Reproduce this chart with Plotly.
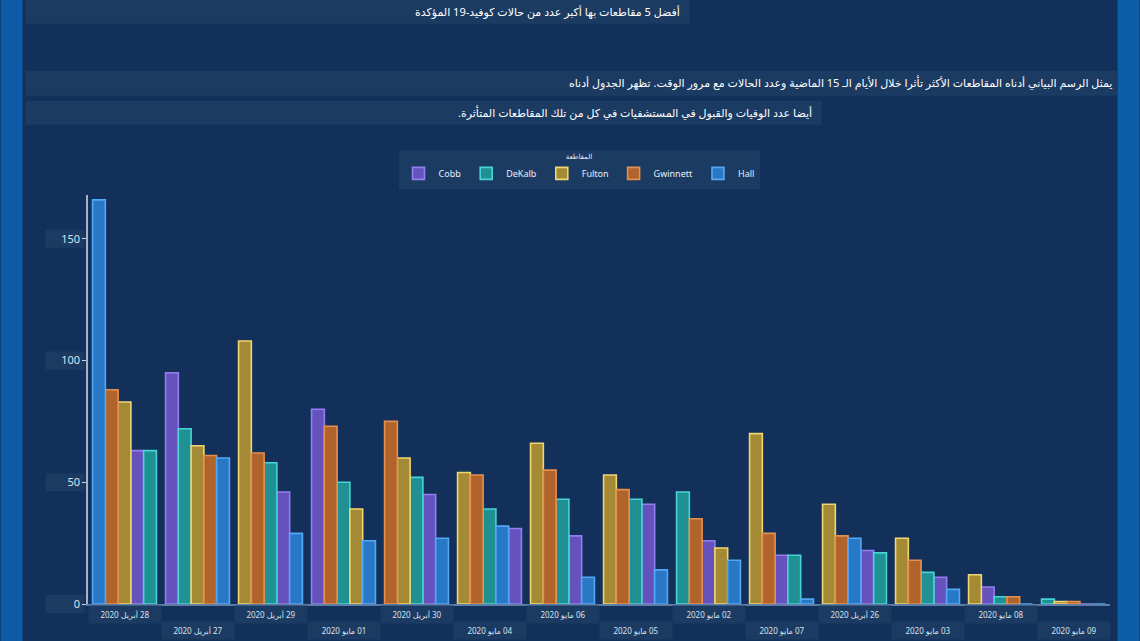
import plotly.graph_objects as go

# dates on the x axis, ordered by total cases (as in the dashboard)
dates = ["28 أبريل 2020", "27 أبريل 2020", "29 أبريل 2020", "01 مايو 2020",
         "30 أبريل 2020", "04 مايو 2020", "06 مايو 2020", "05 مايو 2020",
         "02 مايو 2020", "07 مايو 2020", "26 أبريل 2020", "03 مايو 2020",
         "08 مايو 2020", "09 مايو 2020"]

counties = ["Cobb", "DeKalb", "Fulton", "Gwinnett", "Hall"]

cobb = [63, 95, 46, 80, 45, 31, 28, 41, 26, 20, 22, 11, 7, 0]
dekalb = [63, 72, 58, 50, 52, 39, 43, 43, 46, 20, 21, 13, 3, 2]
fulton = [83, 65, 108, 39, 60, 54, 66, 53, 23, 70, 41, 27, 12, 1]
gwinnett = [88, 61, 62, 73, 75, 53, 55, 47, 35, 29, 28, 18, 3, 1]
hall = [166, 60, 29, 26, 27, 32, 11, 14, 18, 2, 27, 6, 0, 0]

y_ticks = [0, 50, 100, 150]

title_main = "أفضل 5 مقاطعات بها أكبر عدد من حالات كوفيد-19 المؤكدة"
desc_1 = "يمثل الرسم البياني أدناه المقاطعات الأكثر تأثرا خلال الأيام الـ 15 الماضية وعدد الحالات مع مرور الوقت. تظهر الجدول أدناه"
desc_2 = "أيضا عدد الوفيات والقبول في المستشفيات في كل من تلك المقاطعات المتأثرة."
legend_title = "المقاطعة"

series = [cobb, dekalb, fulton, gwinnett, hall]
fills = ["#6652bd", "#1f9193", "#a58a36", "#b1632c", "#2978c6"]
edges = ["#917ef0", "#48d3d6", "#efd672", "#e5904f", "#53a8f5"]

NAVY = "#12305a"
BOX = "#1c3b63"
W, H = 1140, 641
# plot area in pixels
X0, X1 = 87.5, 1110.5
Y0, YTOP = 604, 195.2


def px(x):
    return (x - X0) / (X1 - X0)


def py(y):
    return (Y0 - y) / (Y0 - YTOP)


def rtl(s):
    # right-to-left isolate so Arabic text reads in the right order
    return "\u2067" + s + "\u2069"


# each bar sits at its rank inside the day group (largest first)
group_w = 0.875
bar_w = group_w / len(counties)
ranks = [[0] * len(dates) for _ in counties]
for i in range(len(dates)):
    order = sorted(range(len(counties)), key=lambda c: (-series[c][i], c))
    for r, c in enumerate(order):
        ranks[c][i] = r

fig = go.Figure()
for c, name in enumerate(counties):
    fig.add_trace(go.Bar(
        x=dates, y=series[c], name=name,
        offset=[-group_w / 2 + r * bar_w for r in ranks[c]],
        width=bar_w,
        marker=dict(color=fills[c], line=dict(color=edges[c], width=1.6)),
    ))

shapes = [
    # blue side strips of the screen
    dict(type="rect", xref="paper", yref="paper", x0=px(0), x1=px(22), y0=py(H), y1=py(0),
         fillcolor="#0b5ba6", line_width=0, layer="below"),
    dict(type="rect", xref="paper", yref="paper", x0=px(1118), x1=px(W), y0=py(H), y1=py(0),
         fillcolor="#0c5ea9", line_width=0, layer="below"),
    # text boxes
    dict(type="rect", xref="paper", yref="paper", x0=px(25), x1=px(690), y0=py(24), y1=py(0),
         fillcolor=BOX, line_width=0, layer="below"),
    dict(type="rect", xref="paper", yref="paper", x0=px(25), x1=px(1118), y0=py(96), y1=py(71),
         fillcolor=BOX, line_width=0, layer="below"),
    dict(type="rect", xref="paper", yref="paper", x0=px(25), x1=px(822), y0=py(125), y1=py(101),
         fillcolor=BOX, line_width=0, layer="below"),
]
for t in y_ticks:
    yc = Y0 - t * (Y0 - YTOP) / 168
    shapes.append(dict(type="rect", xref="paper", yref="paper", x0=px(45), x1=px(84),
                       y0=py(yc + 9), y1=py(yc - 9), fillcolor=BOX, line_width=0, layer="below"))

annotations = [
    dict(text=rtl(title_main), xref="paper", yref="paper", x=px(682), y=py(12), xanchor="right",
         yanchor="middle", showarrow=False, font=dict(size=11, color="#ffffff")),
    dict(text=rtl(desc_1), xref="paper", yref="paper", x=px(1115), y=py(83), xanchor="right",
         yanchor="middle", showarrow=False, font=dict(size=11, color="#ffffff")),
    dict(text=rtl(desc_2), xref="paper", yref="paper", x=px(814), y=py(113), xanchor="right",
         yanchor="middle", showarrow=False, font=dict(size=11, color="#ffffff")),
]
# staggered date labels in boxes
for i, d in enumerate(dates):
    yc = 614 if i % 2 == 0 else 630
    annotations.append(dict(
        text=rtl(d), xref="x", yref="paper", x=d, y=py(yc), xanchor="center", yanchor="middle",
        showarrow=False, width=70, height=15, bgcolor=BOX,
        font=dict(size=8, color="#d8e2ee"),
    ))

fig.update_layout(
    width=W, height=H,
    margin=dict(l=X0, r=W - X1, t=YTOP, b=H - Y0, pad=0),
    paper_bgcolor=NAVY, plot_bgcolor=NAVY,
    barmode="overlay",
    font=dict(family="Noto Sans, DejaVu Sans, sans-serif", color="#d8e2ee"),
    showlegend=True,
    legend=dict(
        orientation="h", x=px(579), xanchor="center", y=py(150), yanchor="top",
        bgcolor=BOX, font=dict(size=9, color="#e8eef6"),
        title=dict(text=rtl(legend_title), side="top center", font=dict(size=7, color="#e8eef6")),
        itemwidth=30, traceorder="normal", tracegroupgap=0,
    ),
    shapes=shapes,
    annotations=annotations,
)
fig.update_xaxes(type="category", range=[-0.5, len(dates) - 0.5], showticklabels=False,
                 showgrid=False, zeroline=False, showline=True, linecolor="#5d7ea6", linewidth=1.5)
fig.update_yaxes(range=[0, 168], tickvals=y_ticks, ticks="outside", ticklen=4, tickcolor="#c9d6e6",
                 tickfont=dict(size=11, color="#d8e2ee"), showgrid=False, zeroline=False,
                 showline=True, linecolor="#9fb4cd", linewidth=1.5)

fig.write_html("out.html", config={"displayModeBar": False},
               post_script="document.body.style.margin='0px';")
